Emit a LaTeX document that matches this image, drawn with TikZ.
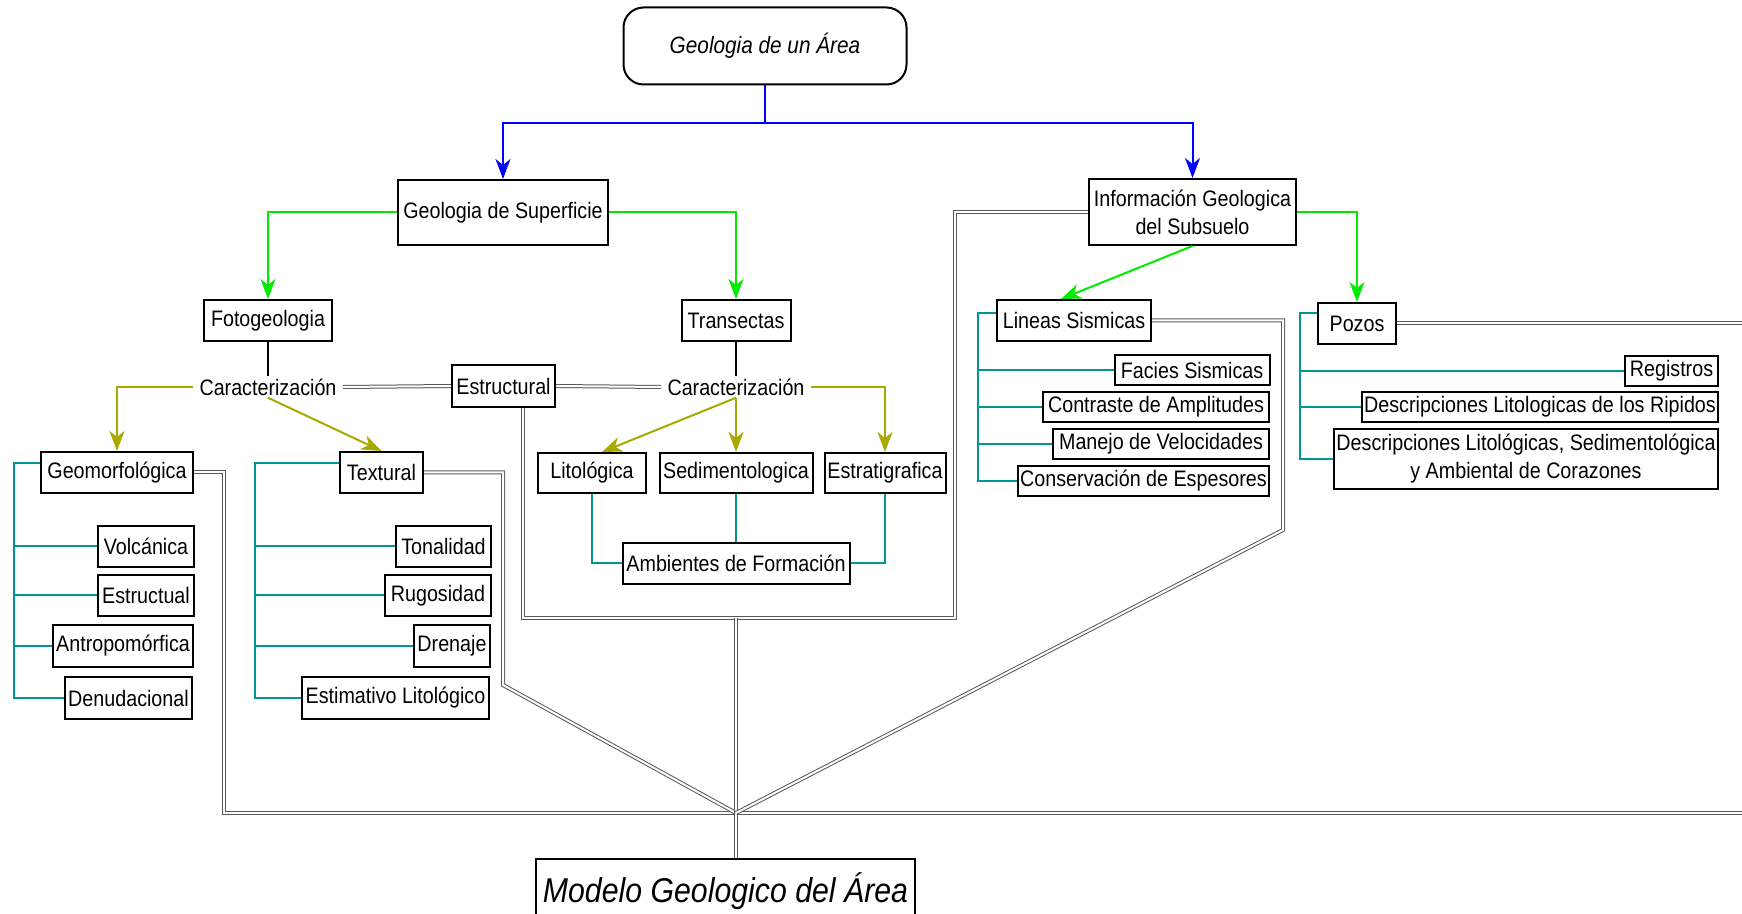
\documentclass[tikz,border=0pt]{standalone}
\usepackage{fontspec}
\setmainfont{Liberation Sans}[FakeStretch=0.88]
\usetikzlibrary{arrows.meta,calc}
\definecolor{cblue}{RGB}{0,0,255}
\definecolor{cgreen}{RGB}{0,235,0}
\definecolor{colive}{RGB}{168,168,0}
\definecolor{cteal}{RGB}{0,150,150}
\begin{document}
\begin{tikzpicture}[x=0.5pt,y=-0.5pt,
  every node/.style={font=\fontsize{11.2pt}{14pt}\selectfont},
  box/.style={draw, line width=1pt, fill=white, inner sep=0pt, align=center},
  bx/.style 2 args={box, minimum width=#1*0.5pt, minimum height=#2*0.5pt},
  lbl/.style={inner xsep=3pt, inner ysep=1pt},
  ln/.style={line width=1pt},
  arr/.style={-{Stealth[length=10pt,width=7.5pt,inset=3pt]}},
  tl/.style={cteal, line width=1pt},
  dbl/.style={draw=black!65, line width=0.5pt, double=white, double distance=1pt}]
\useasboundingbox (0,0) rectangle (1742,914);
\clip (0,0) rectangle (1742,914);
\fill[white] (0,0) rectangle (1742,914);

% nodes
\node[bx={283}{77}, rounded corners=10pt, font=\fontsize{11.8pt}{14pt}\itshape] (top) at (765,46) {Geologia de un Área};
\node[bx={210}{65}] (gds) at (503,212.5) {Geologia de Superficie};
\node[bx={128}{41}] (foto) at (268,320.5) {Fotogeologia};
\node[bx={109}{41}] (tra) at (736,320.5) {Transectas};
\node[lbl] (carL) at (268,387) {Caracterización};
\node[bx={103}{42}] (est) at (503.5,386) {Estructural};
\node[lbl] (carR) at (736,387) {Caracterización};
\node[bx={152}{41}] (geo) at (117,472.5) {Geomorfológica};
\node[bx={83}{41}] (tex) at (381.5,472.5) {Textural};
\node[bx={96}{41}] (volc) at (146,546.5) {Volcánica};
\node[bx={96}{41}] (estc) at (146,595.5) {Estructual};
\node[bx={140}{42}] (antr) at (123,646) {Antropomórfica};
\node[bx={127}{42}] (denu) at (128.5,698) {Denudacional};
\node[bx={95}{41}] (tona) at (443.5,546.5) {Tonalidad};
\node[bx={106}{41}] (rugo) at (438,595.5) {Rugosidad};
\node[bx={76}{42}] (dren) at (452,646) {Drenaje};
\node[bx={187}{42}] (esti) at (395.5,698) {Estimativo Litológico};
\node[bx={108}{40}] (lit) at (592,473) {Litológica};
\node[bx={153}{40}] (sed) at (736,473) {Sedimentologica};
\node[bx={121}{40}] (estr) at (885,473) {Estratigrafica};
\node[bx={227}{41}] (amb) at (736,563.5) {Ambientes de Formación};
\node[bx={207}{66}] (info) at (1192.5,212) {Información Geologica\\del Subsuelo};
\node[bx={154}{41}] (lin) at (1074,320.5) {Lineas Sismicas};
\node[bx={78}{41}] (poz) at (1357,323.5) {Pozos};
\node[bx={155}{30}] (faci) at (1192,370) {Facies Sismicas};
\node[bx={226}{30}] (cont) at (1156,407) {Contraste de Amplitudes};
\node[bx={216}{30}] (mane) at (1161,444) {Manejo de Velocidades};
\node[bx={251}{30}] (cons) at (1143.5,481) {Conservación de Espesores};
\node[bx={93}{30}] (regi) at (1671.5,371) {Registros};
\node[bx={356}{30}] (ripi) at (1540,407) {Descripciones Litologicas de los Ripidos};
\node[bx={384}{60}] (cora) at (1526,459) {Descripciones Litológicas, Sedimentológica\\y Ambiental de Corazones};
\node[bx={379}{64}, font=\fontsize{17.2pt}{19pt}\itshape] (mod) at (725.5,891) {Modelo Geologico del Área};

% coordinates
\coordinate (J) at (736,813);
\coordinate (RE1) at (1760,813);
\coordinate (G1) at (224,813);
\coordinate (T1) at (503,685);
\coordinate (L1) at (523,618);
\coordinate (L2) at (955,212);
\coordinate (S1) at (1283,530);
\coordinate (RE2) at (1760,323.5);
\coordinate (B) at (765,123);
\coordinate (gb) at (14,463);
\coordinate (tb) at (255,463);
\coordinate (lb) at (978,313);
\coordinate (pb) at (1300,313);

% double connectors
\draw[dbl] (geo.east) -| (G1) -- (RE1);
\draw[dbl] (tex.east) -| (T1) -- (J);
\draw[dbl] (est.south -| L1) -- (L1) -| (L2) -- (info.west);
\draw[dbl] (J |- L1) -- (J |- mod.north);
\draw[dbl] (lin.east) -| (S1) -- (J);
\draw[dbl] (poz.east) -- (RE2);
\draw[dbl] (carL.east) -- (est.west);
\draw[dbl] (est.east) -- (carR.west);

% blue
\draw[cblue, ln, arr] (top.south) -- (B) -| (gds.north);
\draw[cblue, ln, arr] (B) -| (info.north);
% green
\draw[cgreen, ln, arr] (gds.west) -| (foto.north);
\draw[cgreen, ln, arr] (gds.east) -| (tra.north);
\draw[cgreen, ln, arr] (info.south) -- ($(lin.north)+(-13,0)$);
\draw[cgreen, ln, arr] (info.east) -| (poz.north);
% black
\draw[line width=1pt] (foto.south) -- (carL.north);
\draw[line width=1pt] (tra.south) -- (carR.north);
% olive
\draw[colive, ln, arr] (carL.west) -| (geo.north);
\draw[colive, ln, arr] (carL.south) -- (tex.north);
\draw[colive, ln, arr] (carR.south) -- ($(lit.north)+(10,0)$);
\draw[colive, ln, arr] (carR.south) -- (sed.north);
\draw[colive, ln, arr] (carR.east) -| (estr.north);
% teal
\draw[tl] (lit.south) |- (amb.west);
\draw[tl] (sed.south) -- (amb.north);
\draw[tl] (estr.south) |- (amb.east);
\draw[tl] (geo.west |- gb) -- (gb) |- (denu.west);
\foreach \n in {volc,estc,antr} \draw[tl] (gb |- \n.west) -- (\n.west);
\draw[tl] (tex.west |- tb) -- (tb) |- (esti.west);
\foreach \n in {tona,rugo,dren} \draw[tl] (tb |- \n.west) -- (\n.west);
\draw[tl] (lin.west |- lb) -- (lb) |- (cons.west);
\foreach \n in {faci,cont,mane} \draw[tl] (lb |- \n.west) -- (\n.west);
\draw[tl] (poz.west |- pb) -- (pb) |- (cora.west);
\foreach \n in {regi,ripi} \draw[tl] (pb |- \n.west) -- (\n.west);
\end{tikzpicture}
\end{document}
